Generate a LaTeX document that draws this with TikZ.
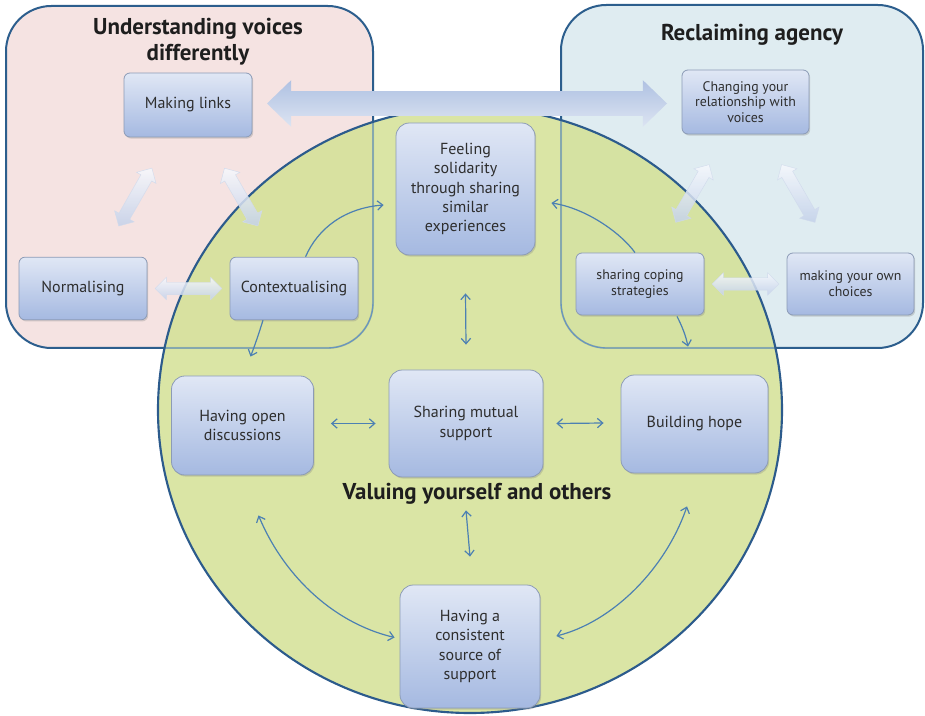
\documentclass[tikz,border=0pt]{standalone}
\usepackage{fontspec}
\setmainfont{PT Sans}
\usetikzlibrary{shapes.arrows,shadows,calc,arrows.meta}

\definecolor{panelline}{HTML}{2C5E8D}
\definecolor{panelinner}{HTML}{6A95BE}
\definecolor{pinkpanel}{HTML}{F5E3E2}
\definecolor{bluepanel}{HTML}{DFECF1}
\definecolor{circlefill}{HTML}{D4E195}
\definecolor{circleline}{HTML}{2C5B8C}
\definecolor{boxtop}{HTML}{E0E7F5}
\definecolor{boxbot}{HTML}{A5B9E1}
\definecolor{boxline}{HTML}{8C9BB6}
\definecolor{boxtext}{HTML}{2E2E2E}
\definecolor{fattop}{HTML}{F7F9FD}
\definecolor{fatbot}{HTML}{C3D1EA}
\definecolor{fatline}{HTML}{D0DAEC}
\definecolor{bigtop}{HTML}{AFC1E2}
\definecolor{bigbot}{HTML}{DCE4F2}
\definecolor{linkblue}{HTML}{4C80B3}
\definecolor{titletext}{HTML}{1E1E1E}

\tikzset{
  box/.style={draw=boxline, line width=0.6pt, top color=boxtop, bottom color=boxbot,
    rounded corners=4.5pt, align=center, text=boxtext, inner sep=2pt,
    font=\fontsize{12}{14.5}\selectfont,
    drop shadow={shadow xshift=0.9pt, shadow yshift=-1.2pt, opacity=0.3}},
  bigbox/.style={box, rounded corners=10pt},
  smallbox/.style={box, font=\fontsize{10.4}{11.8}\selectfont},
  panel/.style={draw=panelline, line width=1.5pt, rounded corners=34pt},
  link/.style={draw=linkblue, line width=0.9pt,
    {Straight Barb[length=4pt,width=7pt]}-{Straight Barb[length=4pt,width=7pt]}},
  linkone/.style={draw=linkblue, line width=0.9pt, -{Straight Barb[length=4pt,width=7pt]}},
  fat/.style={double arrow, sloped, inner xsep=0pt, inner ysep=4.5pt, minimum height=50pt,
    double arrow head extend=3.75pt,
    top color=fattop, bottom color=fatbot, draw=fatline, line width=0.3pt,
    fill opacity=0.85},
  bigarrow/.style={double arrow, inner xsep=0pt, inner ysep=9pt, minimum height=300pt,
    double arrow head extend=8.25pt, double arrow tip angle=88,
    top color=bigtop, bottom color=bigbot, draw=none},
  heading/.style={font=\bfseries\fontsize{17.2}{19.5}\selectfont, text=titletext, align=center},
}

\begin{document}
\begin{tikzpicture}[x=0.75pt,y=-0.75pt]
\useasboundingbox (0,0) rectangle (925,716);

% the two theme panels
\path[panel, fill=pinkpanel] (6,6) rectangle (373,348);
\path[panel, fill=bluepanel] (561,5) rectangle (923,348);

% the central theme
\fill[circlefill, fill opacity=0.85] (470,410) ellipse [x radius=312, y radius=303];
\begin{scope}
  \clip (470,410) ellipse [x radius=312, y radius=303];
  \draw[panelinner, line width=1pt, rounded corners=34pt] (6,6) rectangle (373,348);
  \draw[panelinner, line width=1pt, rounded corners=34pt] (561,5) rectangle (923,348);
\end{scope}
\draw[circleline, line width=1.6pt] (470,410) ellipse [x radius=312, y radius=303];

% headings
\node[heading] (tleft) at (198,42) {Understanding voices\\differently};
\node[heading] (tright) at (752,35) {Reclaiming agency};
\node[heading] (tmid) at (477,494) {Valuing yourself and others};

% boxes
\node[box, minimum width=96pt, minimum height=48pt] (ml) at (188,105) {Making links};
\node[box, minimum width=96pt, minimum height=47pt] (nm) at (83,288.5) {Normalising};
\node[box, minimum width=96pt, minimum height=47pt] (ctx) at (294,288.5) {Contextualising};
\node[bigbox, minimum width=104.25pt, minimum height=99pt] (fs) at (465.5,189)
  {Feeling\\solidarity\\through sharing\\similar\\experiences};
\node[smallbox, minimum width=95.25pt, minimum height=48pt] (ch) at (745.5,102)
  {Changing your\\relationship with\\voices};
\node[smallbox, minimum width=96pt, minimum height=46.5pt] (sc) at (640,284)
  {sharing coping\\strategies};
\node[smallbox, minimum width=95.25pt, minimum height=46.5pt] (mc) at (850.5,284)
  {making your own\\choices};
\node[bigbox, minimum width=106.5pt, minimum height=74.25pt] (od) at (242.5,425.5)
  {Having open\\discussions};
\node[bigbox, minimum width=115.5pt, minimum height=80.25pt] (ms) at (466,423.5)
  {Sharing mutual\\support};
\node[bigbox, minimum width=110.25pt, minimum height=73.5pt] (bh) at (694.5,424)
  {Building hope};
\node[bigbox, minimum width=105pt, minimum height=92.25pt] (cs) at (470,646.5)
  {Having a\\consistent\\source of\\support};

% broad arrow between the two panels
\path (ml) -- (ch) node[bigarrow, midway] (big) {};

% broad arrows inside the panels
\path (nm) -- (ml) node[fat, midway] (fa1) {};
\path (ml) -- (ctx) node[fat, midway] (fa2) {};
\path (nm) -- (ctx) node[fat, midway] (fa3) {};
\path (ch) -- (sc) node[fat, midway] (fa4) {};
\path (ch) -- (mc) node[fat, midway] (fa5) {};
\path (sc) -- (mc) node[fat, midway] (fa6) {};

% thin connectors
\draw[linkone] (ctx.70) .. controls (318,228) and (345,208) .. ($(fs.west)+(-12,16)$);
\draw[linkone] ($(sc.north)+(-5,0)$) .. controls (620,232) and (585,208) .. ($(fs.east)+(16,14)$);
\draw[linkone] ($(ctx.south)+(-31,0)$) .. controls (259,333) and (255,345) .. ($(od.north)+(8,-19)$);
\draw[linkone] ($(sc.south)+(37,1)$) .. controls (683,328) and (686,337) .. ($(bh.north)+(-6.5,-28)$);
\draw[link] ($(fs.south)+(0,38)$) -- ($(ms.north)+(0,-25)$);
\draw[link] ($(od.east)+(17,-2)$) -- ($(ms.west)+(-13,0)$);
\draw[link] ($(ms.east)+(13,0)$) -- ($(bh.west)+(-17,-1)$);
\draw[link] ($(ms.south)+(0,33)$) -- ($(cs.north)+(0,-28)$);
\draw[link] ($(od.south)+(16,40)$) .. controls (282,572) and (330,622) .. ($(cs.west)+(-5,-9)$);
\draw[link] ($(bh.south)+(-7.5,33)$) .. controls (665,570) and (612,622) .. ($(cs.east)+(16,-10.5)$);
\end{tikzpicture}
\end{document}
